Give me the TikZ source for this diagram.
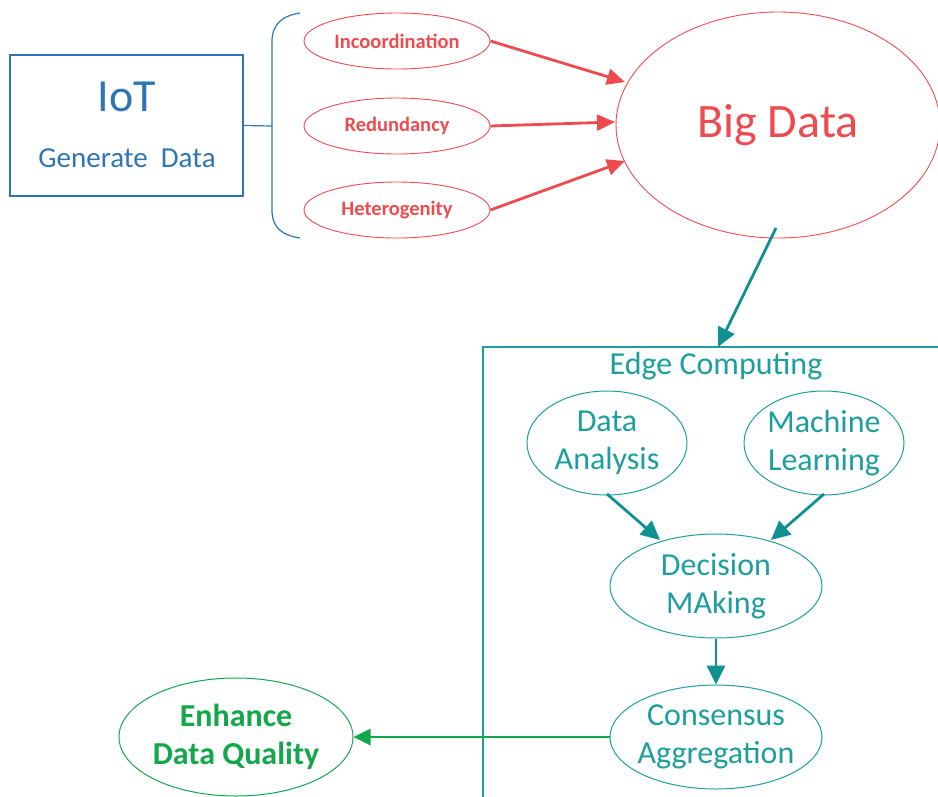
\documentclass[tikz,border=0pt]{standalone}
\usepackage{fontspec}
\setmainfont{Carlito}
\usetikzlibrary{shapes.geometric,arrows.meta}
\definecolor{iotblue}{HTML}{2E75B6}
\definecolor{bdred}{HTML}{EE4B50}
\definecolor{tealc}{HTML}{1C9E9E}
\definecolor{tealarr}{HTML}{0F9191}
\definecolor{greenc}{HTML}{12A84A}
\tikzset{
  redell/.style={ellipse,draw=bdred,line width=0.9pt,inner sep=0pt,minimum width=186pt,minimum height=56pt,text=bdred,font=\fontsize{20.5}{24}\selectfont\bfseries},
  tealell/.style={ellipse,draw=tealc,line width=1pt,inner sep=0pt,inner xsep=-25pt,text=tealc,align=center,font=\fontsize{32}{38}\selectfont},
  redarr/.style={draw=bdred,line width=2.8pt,-{Triangle[length=18pt,width=16pt]}},
  tealarrow/.style={draw=tealarr,line width=2.8pt,-{Triangle[length=19pt,width=18pt]}},
  greenarr/.style={draw=greenc,line width=2.6pt,-{Triangle[length=17pt,width=16pt]}}
}
\begin{document}
\begin{tikzpicture}[x=1pt,y=-1pt]
\useasboundingbox (0,0) rectangle (938,796);
% IoT box
\node (iot) [draw=iotblue,line width=1.2pt,minimum width=233pt,minimum height=141pt,inner sep=0pt] at (126.5,125.5) {};
\node (iott) [text=iotblue,font=\fontsize{46}{52}\selectfont] at (127,97) {IoT};
\node (gen) [text=iotblue,font=\fontsize{29}{34}\selectfont] at (127,158) {Generate\ \ Data};
% brace
\coordinate (bt) at (300,13);
\coordinate (bb) at (300,238);
\coordinate (bm) at (272,126);
\draw[iotblue,line width=1.2pt] (bt) .. controls (281,16) and (272,25) .. (272,42) -- (272,210) .. controls (272,227) and (281,235) .. (bb);
\draw[iotblue,line width=1.2pt] (iot.east) -- (bm);
% red ellipses
\node (inc) [redell] at (397,41) {Incoordination};
\node (red) [redell] at (397,126) {Redundancy};
\node (het) [redell] at (397,210) {Heterogenity};
% big data
\node (bd) [ellipse,draw=bdred,line width=0.9pt,inner sep=0pt,minimum width=324pt,minimum height=226pt,text=bdred,font=\fontsize{48}{54}\selectfont] at (778,125) {Big Data};
\coordinate (bdin1) at (625,82);
\coordinate (bdin2) at (615,122);
\coordinate (bdin3) at (625,161);
\draw[redarr] (inc.east) -- (bdin1);
\draw[redarr] (red.east) -- (bdin2);
\draw[redarr] (het.east) -- (bdin3);
% edge computing box
\coordinate (ecbl) at (483,797);
\coordinate (ectl) at (483,347);
\coordinate (ectr) at (939,347);
\coordinate (ectop) at (718,347);
\draw[tealc,line width=1.2pt] (ecbl) -- (ectl) -- (ectr);
\node (ect) [text=tealc,font=\fontsize{32}{38}\selectfont] at (716,366) {Edge Computing};
\coordinate (bdout) at (776,228);
\draw[tealarrow] (bdout) -- (ectop);
% edge nodes
\node (da) [tealell,minimum width=160pt,minimum height=104pt] at (607,443) {Data\\Analysis};
\node (ml) [tealell,minimum width=160pt,minimum height=104pt] at (824,443) {Machine\\Learning};
\node (dm) [tealell,minimum width=212pt,minimum height=104pt] at (716,586) {Decision\\MAking};
\node (ca) [tealell,minimum width=212pt,minimum height=104pt] at (716,737) {Consensus\\Aggregation};
\coordinate (daout) at (607,494);
\coordinate (mlout) at (824,494);
\coordinate (dmin1) at (660,540);
\coordinate (dmin2) at (771,540);
\draw[tealarrow] (daout) -- (dmin1);
\draw[tealarrow] (mlout) -- (dmin2);
\draw[tealarrow] (dm.south) -- (ca.north);
% enhance
\node (edq) [ellipse,draw=greenc,line width=1pt,inner sep=0pt,inner xsep=-25pt,minimum width=234pt,minimum height=118pt,text=greenc,align=center,font=\fontsize{32}{38}\selectfont\bfseries] at (236,737) {Enhance\\Data Quality};
\draw[greenarr] (ca.west) -- (edq.east);
\end{tikzpicture}
\end{document}
